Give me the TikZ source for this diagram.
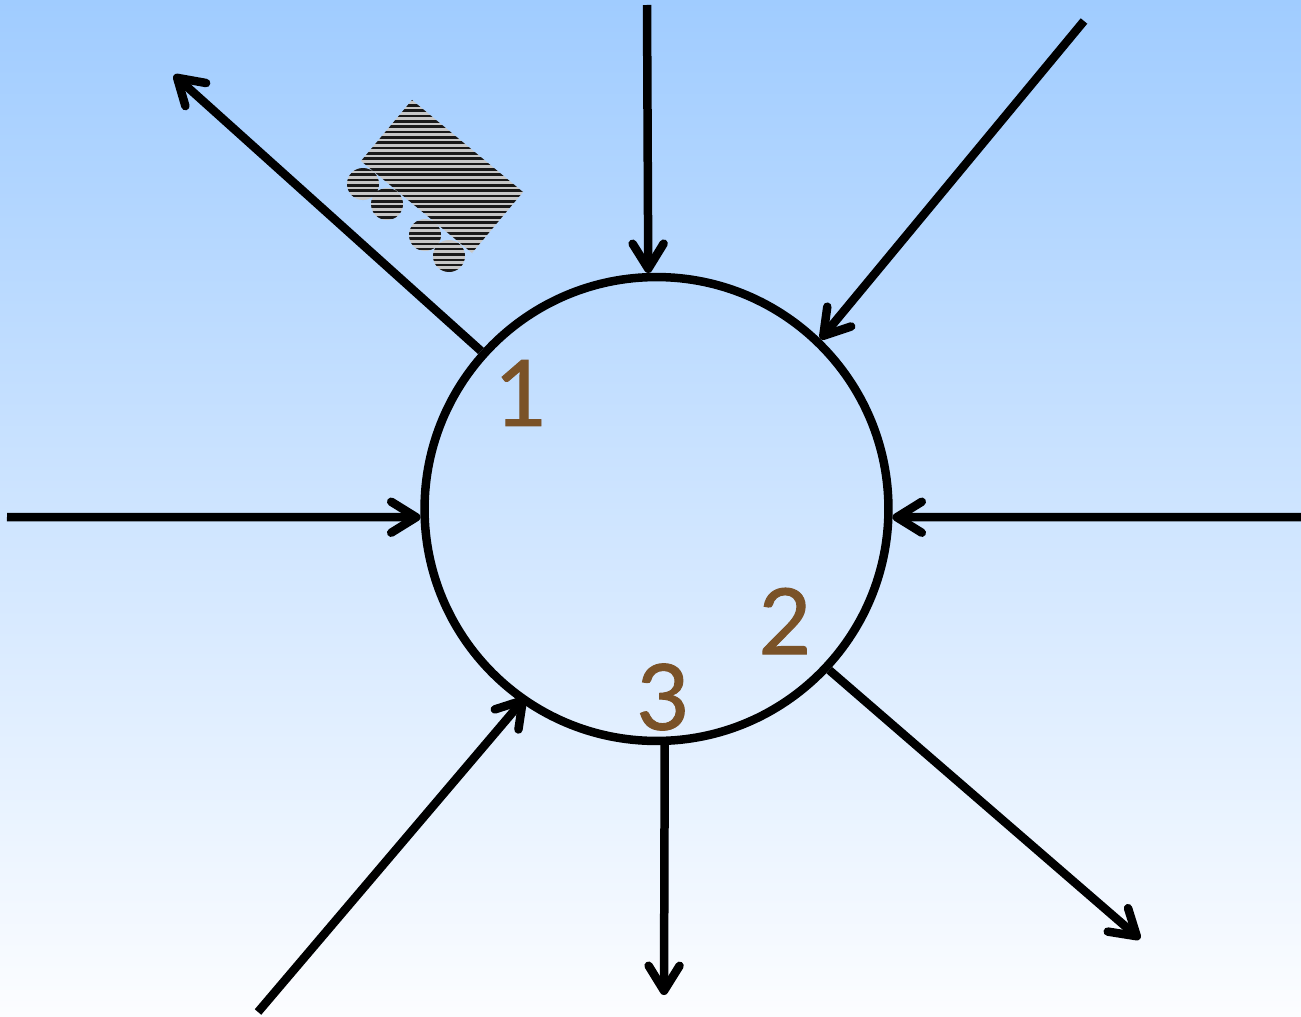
\documentclass[tikz,border=0pt]{standalone}
\usepackage{fontspec}
\setmainfont{DejaVu Sans}
\newfontfamily\numfont{Lato}[FakeBold=1]
\usepackage{xcolor}
\usetikzlibrary{arrows.meta, positioning}
\definecolor{skytop}{HTML}{A0CCFF}
\definecolor{skybot}{HTML}{FCFDFF}
\definecolor{digit}{HTML}{7A5228}
\tikzset{
  flow/.style={line width=0.17cm, -{Straight Barb[round, length=0.5cm, width=0.62cm]}},
  num/.style={text=digit, inner sep=0pt, font=\numfont\fontsize{52}{52}\selectfont},
}

\begin{document}
\begin{tikzpicture}[x=0.02cm, y=-0.02cm]
\useasboundingbox (0,0) rectangle (1301,1017);
\shade[top color=skytop, bottom color=skybot] (0,0) rectangle (1301,1017);

\begin{scope}
\clip (412,100) -- (523,192) -- (472,253) -- (361,161) -- cycle
      (363,184) circle (16) (387,204) circle (16) (425,235) circle (16) (449,256) circle (16);
\fill[black!22] (340,95) rectangle (530,275);
\foreach \y in {0,...,34}
  \draw[line width=0.05cm, black!90] (340,{100+5.33*\y}) -- (530,{100+5.33*\y});
\end{scope}

\node[circle, draw, line width=0.17cm, inner sep=0pt, minimum size=9.28cm] (ring) at (656.5,509) {};

\coordinate (n) at (647,5);
\coordinate (ne) at (1084,21);
\coordinate (w) at (7,517);
\coordinate (e) at (1301,517);
\coordinate (sw) at (258,1012);
\coordinate (s) at (664,995);
\coordinate (se) at (1140,939);
\coordinate (nw) at (174,75);

\draw[flow] (n) -- (ring.92);
\draw[flow] (ne) -- (ring.46);
\draw[flow] (w) -- (ring.182);
\draw[flow] (e) -- (ring.-2);
\draw[flow, shorten >=-0.14cm] (sw) -- (ring.235);
\draw[flow] (ring.272) -- (s);
\draw[flow] (ring.-43) -- (se);
\draw[flow] (ring.138) -- (nw);

\node[num] (one) at (521,393) {1};
\node[num] (two) at (785,621) {2};
\node[num] (three) at (663,697) {3};
\end{tikzpicture}
\end{document}
